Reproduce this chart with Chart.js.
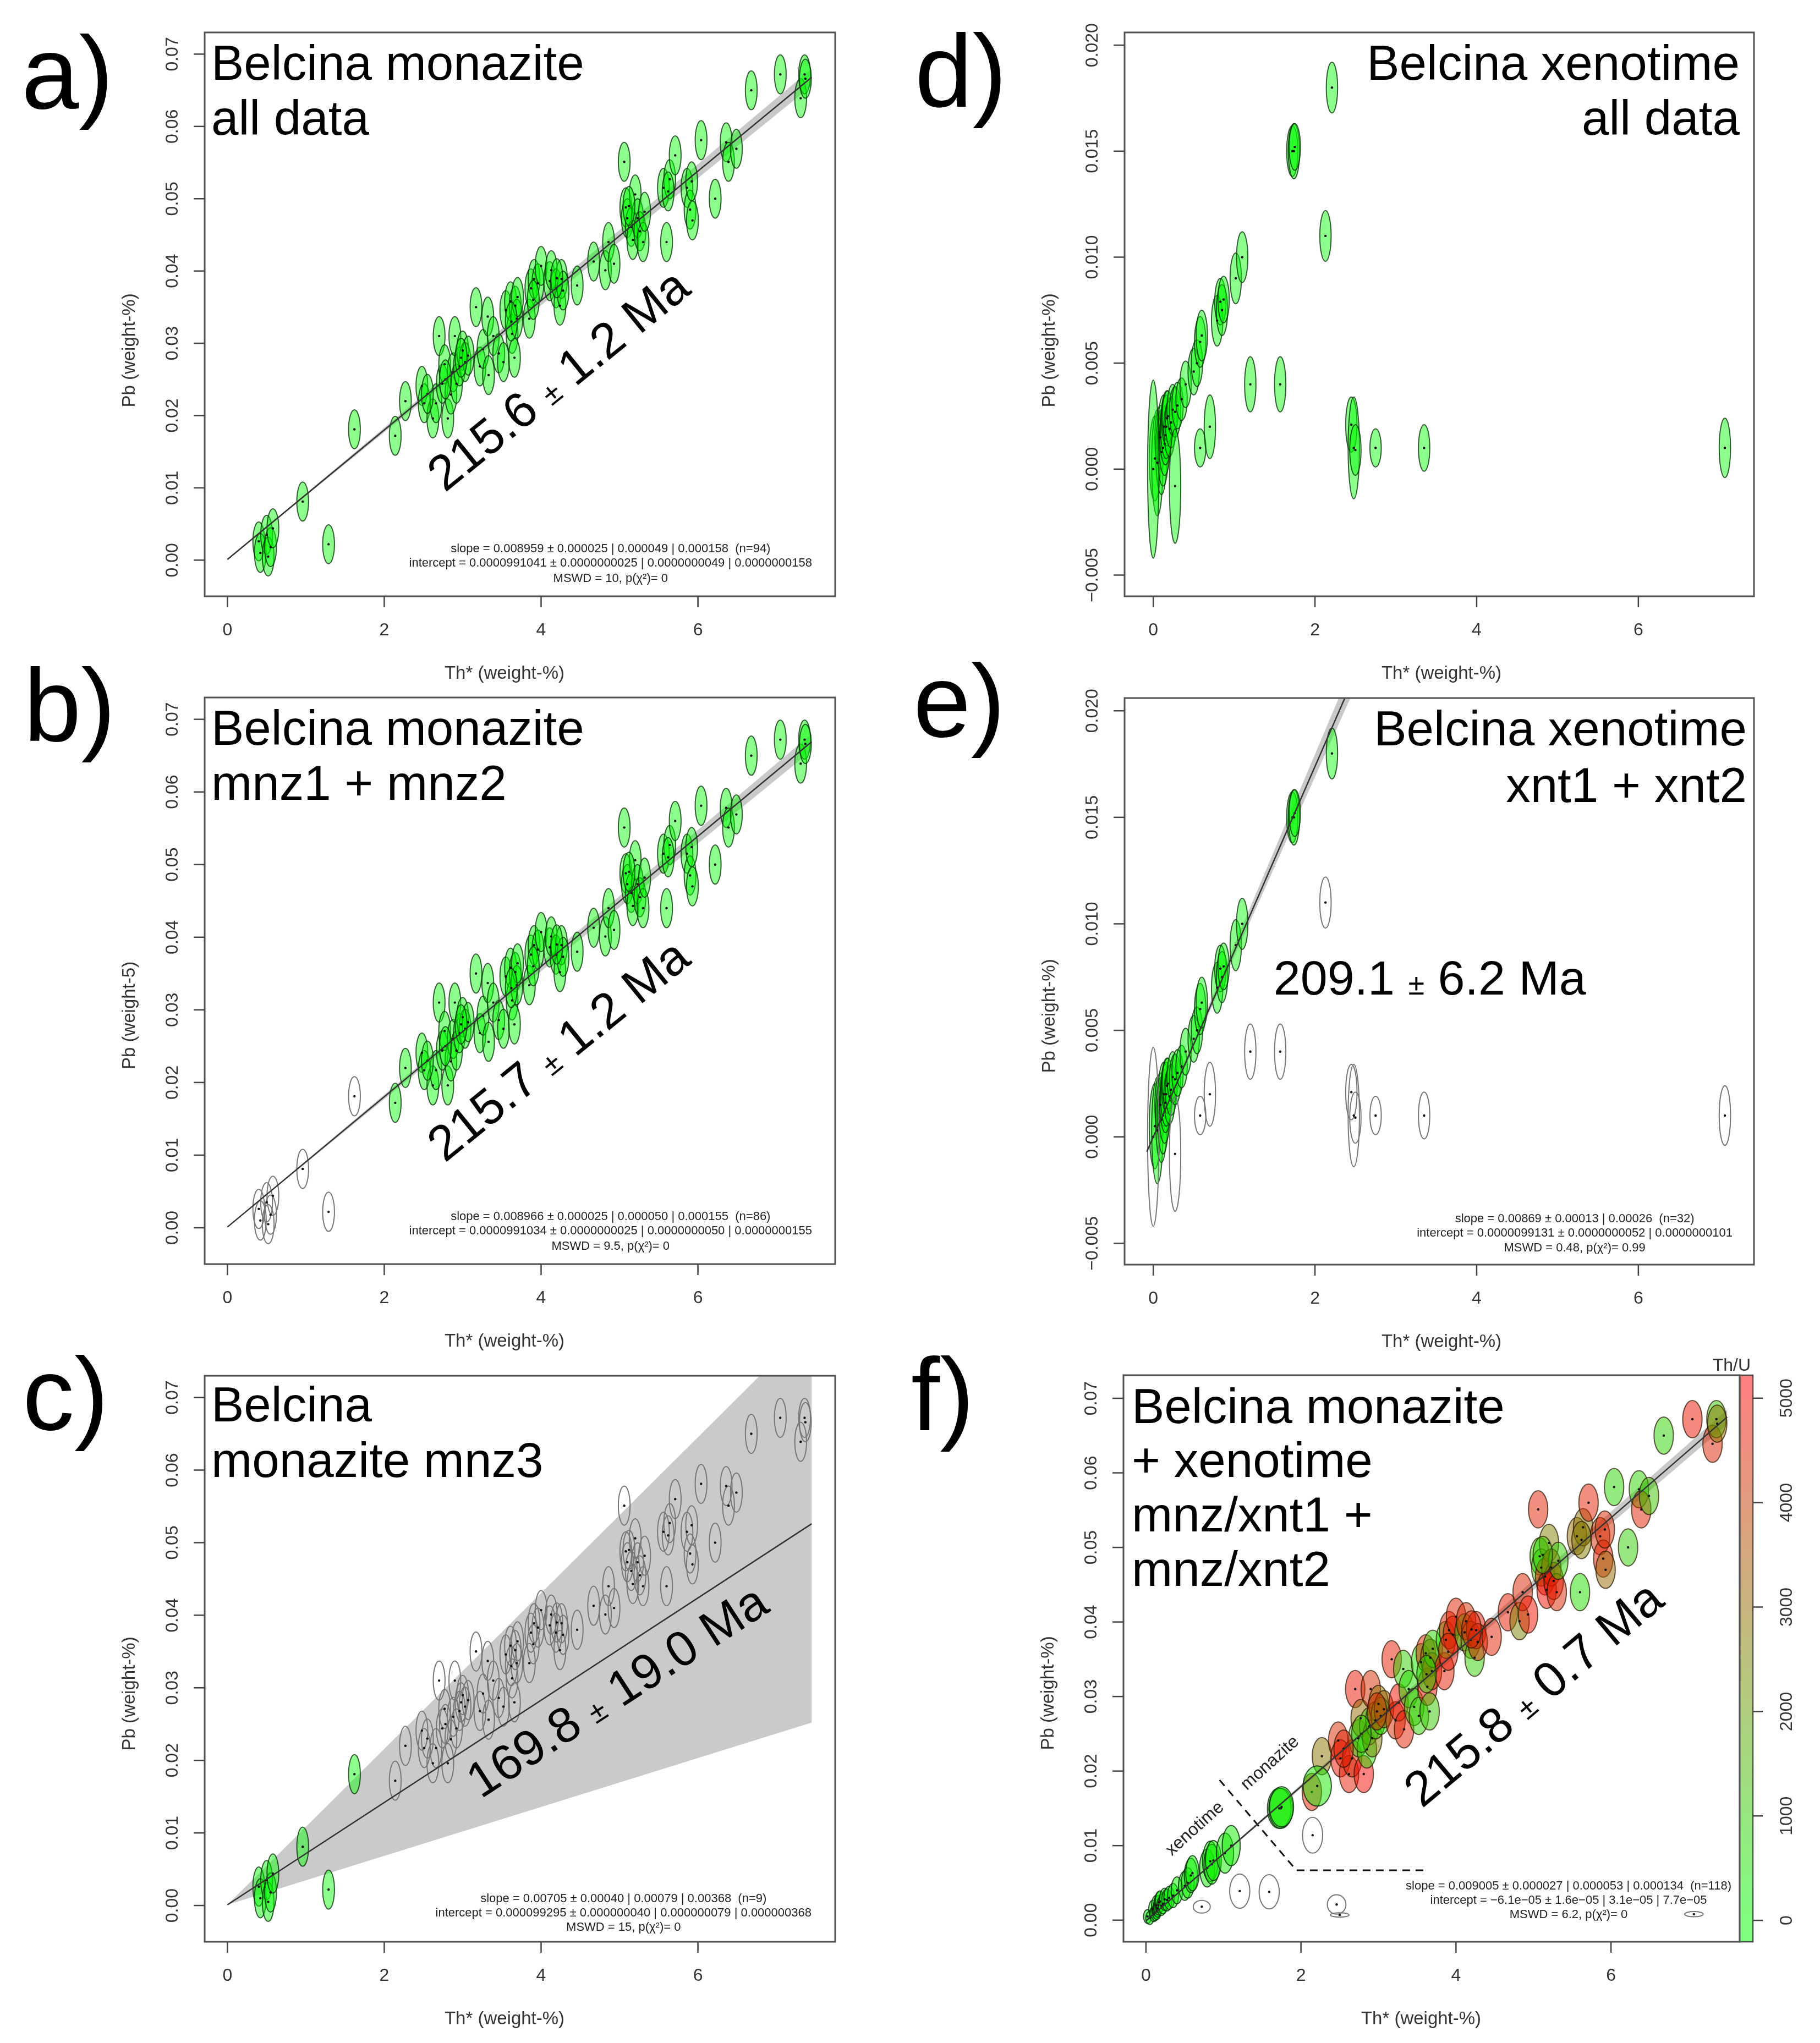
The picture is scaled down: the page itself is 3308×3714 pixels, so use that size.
<!DOCTYPE html>
<html>
<head>
<meta charset="utf-8">
<script src="https://cdn.jsdelivr.net/npm/chart.js@4.4.1/dist/chart.umd.min.js"></script>
<style>
  body { margin: 0; background: #fff; width: 3308px; height: 3714px; position: relative; overflow: hidden; }
  canvas { position: absolute; }
</style>
</head>
<body>
<script>
// ---- axis ticks ----
const thTicks = [0, 2, 4, 6];
const thTickLabels = ['0', '2', '4', '6'];
const pbTicksMnz = [0, 0.01, 0.02, 0.03, 0.04, 0.05, 0.06, 0.07];
const pbTickLabelsMnz = ['0.00', '0.01', '0.02', '0.03', '0.04', '0.05', '0.06', '0.07'];
const pbTicksXnt = [-0.005, 0, 0.005, 0.010, 0.015, 0.020];
const pbTickLabelsXnt = ['\u22120.005', '0.000', '0.005', '0.010', '0.015', '0.020'];
const thuTicks = [0, 1000, 2000, 3000, 4000, 5000];
const thuTickLabels = ['0', '1000', '2000', '3000', '4000', '5000'];

// ---- monazite (mnz1 + mnz2) ----
const mnzTh = [2.14, 2.27, 2.48, 2.51, 2.62, 2.66, 2.70, 2.74, 2.77, 2.81, 2.85, 2.88, 2.90, 2.92, 2.96, 3.00, 3.03, 3.07, 3.17, 3.22,
  3.26, 3.32, 3.33, 3.39, 3.46, 3.52, 3.55, 3.61, 3.63, 3.66, 3.67, 3.69, 3.70, 3.85, 3.87, 3.91, 3.96, 4.00, 4.11, 4.13,
  4.19, 4.24, 4.26, 4.28, 4.46, 4.67, 4.82, 4.86, 4.93, 5.06, 5.08, 5.10, 5.15, 5.17, 5.20, 5.23, 5.26, 5.30, 5.32, 5.56,
  5.60, 5.64, 5.71, 5.86, 5.90, 5.92, 5.93, 6.04, 6.22, 6.36, 6.39, 6.49, 6.68, 7.05, 7.31, 7.36, 7.37, 2.55, 2.78, 2.98,
  3.62, 3.90, 4.20, 5.12, 5.62];
const mnzPb = [0.0172, 0.0220, 0.0241, 0.0217, 0.0196, 0.0217, 0.0310, 0.0244, 0.0271, 0.0196, 0.0229, 0.0260, 0.0310, 0.0244, 0.0268, 0.0290, 0.0274, 0.0283, 0.0350, 0.0268,
  0.0292, 0.0337, 0.0256, 0.0310, 0.0286, 0.0274, 0.0346, 0.0358, 0.0313, 0.0280, 0.0352, 0.0334, 0.0364, 0.0334, 0.0376, 0.0389, 0.0383, 0.0407, 0.0386, 0.0401,
  0.0376, 0.0352, 0.0389, 0.0373, 0.0380, 0.0413, 0.0401, 0.0440, 0.0410, 0.0551, 0.0488, 0.0473, 0.0461, 0.0443, 0.0506, 0.0473, 0.0455, 0.0440, 0.0482, 0.0515,
  0.0440, 0.0527, 0.0560, 0.0515, 0.0485, 0.0524, 0.0470, 0.0581, 0.0500, 0.0578, 0.0551, 0.0569, 0.0650, 0.0672, 0.0639, 0.0672, 0.0666, 0.0230, 0.0250, 0.0280,
  0.0330, 0.0360, 0.0390, 0.0490, 0.0510];
const mnzThU = [4600, 2800, 4400, 4900, 4700, 4500, 4800, 900, 3000, 5000, 700, 1100, 4300, 2600, 800, 2900, 600, 3200, 4700, 4400,
  4900, 1000, 4600, 700, 1200, 900, 500, 4500, 4800, 1100, 3100, 4400, 800, 4700, 600, 4500, 4900, 4600, 900, 4300,
  2700, 1000, 4800, 4400, 4600, 4700, 2500, 4500, 4900, 4600, 800, 1100, 4700, 5000, 2600, 4400, 4800, 4500, 900, 3000,
  700, 2800, 4600, 4300, 4700, 4400, 3100, 800, 1000, 900, 4600, 1200, 900, 4800, 4500, 1000, 2900, 4600, 1100, 4400,
  700, 4700, 4500, 1000, 2700];

// ---- monazite (mnz3, low Th*) ----
const mnzLowTh = [0.40, 0.42, 0.50, 0.52, 0.55, 0.58, 0.96, 1.29, 1.62];
const mnzLowPb = [0.0026, 0.0010, 0.0035, 0.0005, 0.0018, 0.0044, 0.0081, 0.0022, 0.0181];

// ---- xenotime (xnt1 + xnt2) ----
const xntTh = [0.02, 0.05, 0.09, 0.10, 0.12, 0.13, 0.14, 0.15, 0.16, 0.17, 0.18, 0.20, 0.22, 0.24, 0.27, 0.30,
  0.35, 0.40, 0.50, 0.54, 0.58, 0.60, 0.79, 0.83, 0.85, 0.87, 1.02, 1.10, 1.72, 1.74, 1.75, 2.21];
const xntPb = [0.0005, 0.0003, 0.0015, 0.0008, 0.0010, 0.0020, 0.0012, 0.0016, 0.0020, 0.0024, 0.0025, 0.0019, 0.0022, 0.0028, 0.0027, 0.0030,
  0.0033, 0.0040, 0.0046, 0.0050, 0.0060, 0.0063, 0.0070, 0.0079, 0.0075, 0.0080, 0.0090, 0.0100, 0.0150, 0.0150, 0.0152, 0.0180];
const xntErrPb = [0.0020, 0.0025, 0.0015, 0.0020, 0.0018, 0.0015, 0.0015, 0.0014, 0.0015, 0.0013, 0.0012, 0.0013, 0.0012, 0.0012, 0.0012, 0.0011,
  0.0010, 0.0011, 0.0011, 0.0011, 0.0012, 0.0012, 0.0012, 0.0011, 0.0012, 0.0011, 0.0012, 0.0012, 0.0012, 0.0013, 0.0011, 0.0012];
const xntThU = [60, 40, 90, 50, 70, 110, 80, 100, 120, 90, 130, 70, 150, 110, 160, 140,
  180, 200, 230, 190, 260, 240, 280, 300, 250, 320, 340, 310, 380, 420, 360, 450];

// ---- xenotime rejected ----
const xntRejTh = [0.00, 0.27, 0.58, 0.70, 1.20, 1.57, 2.13, 2.45, 2.48, 2.50, 2.75, 3.35, 7.07];
const xntRejPb = [0.0000, -0.0008, 0.0010, 0.0020, 0.0040, 0.0040, 0.0110, 0.0021, 0.0010, 0.0009, 0.0010, 0.0010, 0.0010];
const xntRejErrPb = [0.0042, 0.0027, 0.0009, 0.0015, 0.0013, 0.0013, 0.0012, 0.0013, 0.0024, 0.0012, 0.0009, 0.0011, 0.0014];

// ---- open ellipses in panel f ----
const fRejTh = [0.72, 1.21, 1.59, 2.15, 2.46, 2.50, 7.07];
const fRejPb = [0.0018, 0.0039, 0.0038, 0.0114, 0.0021, 0.0007, 0.0008];
const fRejErrTh = [0.11, 0.13, 0.13, 0.13, 0.12, 0.12, 0.12];
const fRejErrPb = [0.00085, 0.0023, 0.0023, 0.0024, 0.0013, 0.0003, 0.00035];

// ---- isochron lines and bands (Th*, Pb) ----
const fitA = [[0, 0.0001], [7.45, 0.0668]];
const bandAHi = [[0, 0.0001], [7.45, 0.0680]];
const bandALo = [[0, 0.0001], [7.45, 0.0656]];
const fitB = [[0, 0.0001], [7.45, 0.0669]];
const bandBHi = [[0, 0.0001], [7.45, 0.0680]];
const bandBLo = [[0, 0.0001], [7.45, 0.0657]];
const fitC = [[0, 0.0001], [7.45, 0.0526]];
const bandCHi = [[0, 0.0001], [7.45, 0.0801]];
const bandCLo = [[0, 0.0001], [7.45, 0.0252]];
const fitE = [[-0.08, -0.0007], [2.45, 0.0213]];
const bandEHi = [[-0.08, -0.0007], [2.45, 0.0220]];
const bandELo = [[-0.08, -0.0007], [2.45, 0.0207]];
const fitF = [[0, -0.0001], [7.5, 0.0675]];
const bandFHi = [[0, -0.0001], [7.5, 0.0685]];
const bandFLo = [[0, -0.0001], [7.5, 0.0665]];
const divTh = [0.95, 1.94, 3.59];
const divPb = [0.0188, 0.0067, 0.0067];

const statsA = ['slope = 0.008959 \u00b1 0.000025 | 0.000049 | 0.000158  (n=94)',
  'intercept = 0.0000991041 \u00b1 0.0000000025 | 0.0000000049 | 0.0000000158', 'MSWD = 10, p(\u03c7\u00b2)= 0'];
const statsB = ['slope = 0.008966 \u00b1 0.000025 | 0.000050 | 0.000155  (n=86)',
  'intercept = 0.0000991034 \u00b1 0.0000000025 | 0.0000000050 | 0.0000000155', 'MSWD = 9.5, p(\u03c7\u00b2)= 0'];
const statsC = ['slope = 0.00705 \u00b1 0.00040 | 0.00079 | 0.00368  (n=9)',
  'intercept = 0.000099295 \u00b1 0.000000040 | 0.000000079 | 0.000000368', 'MSWD = 15, p(\u03c7\u00b2)= 0'];
const statsE = ['slope = 0.00869 \u00b1 0.00013 | 0.00026  (n=32)',
  'intercept = 0.0000099131 \u00b1 0.0000000052 | 0.0000000101', 'MSWD = 0.48, p(\u03c7\u00b2)= 0.99'];
const statsF = ['slope = 0.009005 \u00b1 0.000027 | 0.000053 | 0.000134  (n=118)',
  'intercept = \u22126.1e\u221205 \u00b1 1.6e\u221205 | 3.1e\u221205 | 7.7e\u221205', 'MSWD = 6.2, p(\u03c7\u00b2)= 0'];

// ---- helpers ----
const FONT = '"Liberation Sans", Arial, Helvetica, sans-serif';
const font = s => s + 'px ' + FONT;
const CW = 1654, CH = 1294;
const GREEN = 'rgba(0,255,0,0.45)';
const GREEN_EDGE = 'rgba(0,40,0,0.75)';
const OPEN_EDGE = '#777';

function thuColor(v) {
  const t = Math.max(0, Math.min(1, v / 5200));
  return 'rgba(' + Math.round(255 * t) + ',' + Math.round(255 * (1 - t)) + ',0,0.5)';
}
const pts = (xs, ys) => xs.map((x, i) => ({ x: x, y: ys[i] }));
const pairs = pp => pp.map(p => ({ x: p[0], y: p[1] }));
function pairsOf(xs, ys) { return xs.map((x, i) => [x, ys[i]]); }

function ellSet(xs, ys, ell) {
  return {
    type: 'scatter', data: pts(xs, ys), order: 2,
    pointRadius: 2.2, pointBackgroundColor: '#111', pointBorderColor: '#111', pointBorderWidth: 0,
    ell: ell
  };
}
function lineSet(pp, opts) {
  opts = opts || {};
  return {
    type: 'line', data: pairs(pp), order: 1, tension: 0, fill: false,
    borderColor: opts.color || '#333', borderWidth: opts.width || 2.5, borderDash: opts.dash || [],
    pointRadius: 0
  };
}
function bandSets(hi, lo, color) {
  return [
    { type: 'line', data: pairs(hi), order: 10, borderWidth: 0, borderColor: 'rgba(0,0,0,0)', pointRadius: 0, fill: false, tension: 0 },
    { type: 'line', data: pairs(lo), order: 9, borderWidth: 0, borderColor: 'rgba(0,0,0,0)', pointRadius: 0, fill: '-1',
      backgroundColor: color || 'rgba(120,120,120,0.4)', tension: 0 }
  ];
}

const greenEll = (rx, ry) => ({ rx: rx, ry: ry, fill: GREEN, stroke: GREEN_EDGE, lw: 2 });
const openEll = (rx, ry) => ({ rx: rx, ry: ry, fill: null, stroke: OPEN_EDGE, lw: 2 });

const ellipsePlugin = {
  id: 'errEllipses',
  beforeDatasetDraw(chart, args) {
    const ds = chart.data.datasets[args.index];
    const e = ds.ell;
    if (!e) return;
    const xs = chart.scales.x, ys = chart.scales.y, a = chart.chartArea, ctx = chart.ctx;
    const pick = (v, i) => typeof v === 'function' ? v(i) : (Array.isArray(v) ? v[i] : v);
    ctx.save();
    ctx.beginPath();
    ctx.rect(a.left, a.top, a.right - a.left, a.bottom - a.top);
    ctx.clip();
    ds.data.forEach((p, i) => {
      const cx = xs.getPixelForValue(p.x), cy = ys.getPixelForValue(p.y);
      const rx = Math.abs(xs.getPixelForValue(p.x + pick(e.rx, i)) - cx);
      const ry = Math.abs(ys.getPixelForValue(p.y + pick(e.ry, i)) - cy);
      ctx.beginPath();
      ctx.ellipse(cx, cy, rx, ry, 0, 0, Math.PI * 2);
      const f = pick(e.fill, i);
      if (f) { ctx.fillStyle = f; ctx.fill(); }
      ctx.lineWidth = e.lw;
      ctx.strokeStyle = pick(e.stroke, i);
      ctx.stroke();
    });
    ctx.restore();
  }
};
Chart.register(ellipsePlugin);

function drawParts(ctx, parts, cx, cy, deg) {
  ctx.save();
  ctx.translate(cx, cy);
  ctx.rotate(-deg * Math.PI / 180);
  let w = 0;
  parts.forEach(p => { ctx.font = font(p[1]); w += ctx.measureText(p[0]).width; });
  let x = -w / 2;
  const base = 0.36 * parts[0][1];
  ctx.textAlign = 'left';
  ctx.textBaseline = 'alphabetic';
  parts.forEach(p => {
    ctx.font = font(p[1]);
    ctx.fillText(p[0], x, base);
    x += ctx.measureText(p[0]).width;
  });
  ctx.restore();
}

function framePlugin(p) {
  return {
    id: 'frame_' + p.id,
    afterDraw(chart) {
      const ctx = chart.ctx, a = chart.chartArea, xs = chart.scales.x, ys = chart.scales.y;
      const seg = (x1, y1, x2, y2) => { ctx.beginPath(); ctx.moveTo(x1, y1); ctx.lineTo(x2, y2); ctx.stroke(); };
      const vtext = (s, x, y) => {
        ctx.save(); ctx.translate(x, y); ctx.rotate(-Math.PI / 2);
        ctx.textAlign = 'center'; ctx.textBaseline = 'alphabetic'; ctx.fillText(s, 0, 0); ctx.restore();
      };
      ctx.save();
      // box
      ctx.strokeStyle = '#505050';
      ctx.lineWidth = 3;
      ctx.strokeRect(a.left, a.top, a.right - a.left, a.bottom - a.top);

      // x axis
      ctx.strokeStyle = '#444';
      ctx.lineWidth = 2.5;
      ctx.fillStyle = '#333';
      ctx.font = font(32);
      ctx.textAlign = 'center';
      ctx.textBaseline = 'alphabetic';
      thTicks.forEach((v, i) => {
        const px = xs.getPixelForValue(v);
        seg(px, a.bottom, px, a.bottom + 20);
        ctx.fillText(thTickLabels[i], px, a.bottom + 71);
      });
      ctx.font = font(33);
      ctx.fillText('Th* (weight-%)', a.left + p.xTitleDx, a.bottom + 150);

      // y axis
      ctx.font = font(32);
      p.yTicks.forEach((v, i) => {
        const py = ys.getPixelForValue(v);
        seg(a.left - 20, py, a.left, py);
        vtext(p.yLabels[i], a.left - 49, py);
      });
      ctx.font = font(33);
      vtext(p.yTitle, a.left - 127, a.top + 578);

      // colour bar
      if (p.colorbar) {
        const yc = chart.scales.yc;
        const x0 = a.right, x1 = a.right + 24;
        const g = ctx.createLinearGradient(0, a.bottom, 0, a.top);
        for (let k = 0; k <= 10; k++) {
          g.addColorStop(k / 10, thuColor(yc.min + (yc.max - yc.min) * k / 10));
        }
        ctx.fillStyle = g;
        ctx.fillRect(x0, a.top, x1 - x0, a.bottom - a.top);
        ctx.strokeStyle = '#505050';
        ctx.lineWidth = 2.5;
        ctx.strokeRect(x0, a.top, x1 - x0, a.bottom - a.top);
        ctx.strokeStyle = '#444';
        ctx.fillStyle = '#333';
        ctx.font = font(32);
        thuTicks.forEach((v, i) => {
          const py = yc.getPixelForValue(v);
          seg(x1, py, x1 + 18, py);
          vtext(thuTickLabels[i], x1 + 71, py);
        });
        ctx.textAlign = 'right';
        ctx.fillText('Th/U', a.right + 20, a.top - 8);
      }

      // panel letter
      ctx.fillStyle = '#000';
      ctx.font = font(188);
      ctx.textAlign = 'left';
      ctx.fillText(p.letter[0], p.letter[1] - p.ox, p.letter[2] - p.oy);

      // title
      ctx.font = font(89);
      ctx.textAlign = p.title.align;
      const tx = p.title.align === 'left' ? a.left + p.title.dx : a.right - p.title.dx;
      p.title.lines.forEach((s, i) => ctx.fillText(s, tx, a.top + p.title.dy[i]));

      // age label
      if (p.age) {
        drawParts(ctx, p.age.parts, xs.getPixelForValue(p.age.x), ys.getPixelForValue(p.age.y), p.age.deg);
      }
      // small notes
      (p.notes || []).forEach(n => {
        ctx.fillStyle = '#222';
        drawParts(ctx, [[n.t, 32]], xs.getPixelForValue(n.x), ys.getPixelForValue(n.y), n.deg);
      });

      // statistics
      if (p.stats) {
        ctx.font = font(22);
        ctx.fillStyle = '#222';
        ctx.textAlign = 'center';
        const maxW = Math.max.apply(null, p.stats.lines.map(s => ctx.measureText(s).width));
        const cx = a.right - p.stats.inset - maxW / 2;
        p.stats.lines.forEach((s, i) => ctx.fillText(s, cx, a.bottom + p.stats.dy[i]));
      }
      ctx.restore();
    }
  };
}

const mnzAllTh = mnzTh.concat(mnzLowTh);
const mnzAllPb = mnzPb.concat(mnzLowPb);
const xntAllTh = xntTh.concat(xntRejTh);
const xntAllPb = xntPb.concat(xntRejPb);
const xntAllErr = xntErrPb.concat(xntRejErrPb);

const panels = [
  {
    id: 'a', ox: 0, oy: 0, box: [372, 59, 1518, 1084], xr: [-0.29, 7.75], yr: [-0.005, 0.073],
    yTicks: pbTicksMnz, yLabels: pbTickLabelsMnz, yTitle: 'Pb (weight-%)', xTitleDx: 545,
    letter: ['a)', 39, 197],
    title: { lines: ['Belcina monazite', 'all data'], align: 'left', dx: 12, dy: [86, 186] },
    age: { parts: [['215.6 ', 90], ['\u00b1', 54], [' 1.2 Ma', 90]], x: 4.21, y: 0.0251, deg: 39 },
    stats: { lines: statsA, inset: 42, dy: [-80, -54, -26] },
    datasets: () => [].concat(bandSets(bandAHi, bandALo),
      [ellSet(mnzAllTh, mnzAllPb, greenEll(0.075, 0.0027)), lineSet(fitA)])
  },
  {
    id: 'b', ox: 0, oy: 1190, box: [372, 1268, 1518, 2298], xr: [-0.29, 7.75], yr: [-0.005, 0.073],
    yTicks: pbTicksMnz, yLabels: pbTickLabelsMnz, yTitle: 'Pb (weight-5)', xTitleDx: 545,
    letter: ['b)', 43, 1347],
    title: { lines: ['Belcina monazite', 'mnz1 + mnz2'], align: 'left', dx: 12, dy: [86, 186] },
    age: { parts: [['215.7 ', 90], ['\u00b1', 54], [' 1.2 Ma', 90]], x: 4.21, y: 0.0246, deg: 39 },
    stats: { lines: statsB, inset: 42, dy: [-80, -54, -26] },
    datasets: () => [].concat(bandSets(bandBHi, bandBLo),
      [ellSet(mnzLowTh, mnzLowPb, openEll(0.075, 0.0027)),
       ellSet(mnzTh, mnzPb, greenEll(0.075, 0.0027)), lineSet(fitB)])
  },
  {
    id: 'c', ox: 0, oy: 2420, box: [372, 2501, 1518, 3530], xr: [-0.29, 7.75], yr: [-0.005, 0.073],
    yTicks: pbTicksMnz, yLabels: pbTickLabelsMnz, yTitle: 'Pb (weight-%)', xTitleDx: 545,
    letter: ['c)', 41, 2599],
    title: { lines: ['Belcina', 'monazite mnz3'], align: 'left', dx: 12, dy: [83, 184] },
    age: { parts: [['169.8 ', 90], ['\u00b1', 54], [' 19.0 Ma', 90]], x: 4.96, y: 0.0297, deg: 33 },
    stats: { lines: statsC, inset: 43, dy: [-72, -46, -20] },
    datasets: () => [].concat(bandSets(bandCHi, bandCLo, 'rgba(150,150,150,0.5)'),
      [ellSet(mnzTh, mnzPb, openEll(0.075, 0.0027)),
       ellSet(mnzLowTh, mnzLowPb, greenEll(0.075, 0.0027)), lineSet(fitC)])
  },
  {
    id: 'd', ox: 1654, oy: 0, box: [2044, 59, 3188, 1084], xr: [-0.355, 7.43], yr: [-0.006, 0.0206],
    yTicks: pbTicksXnt, yLabels: pbTickLabelsXnt, yTitle: 'Pb (weight-%)', xTitleDx: 576,
    letter: ['d)', 1663, 194],
    title: { lines: ['Belcina xenotime', 'all data'], align: 'right', dx: 26, dy: [86, 186] },
    datasets: () => [ellSet(xntAllTh, xntAllPb, greenEll(0.07, xntAllErr))]
  },
  {
    id: 'e', ox: 1654, oy: 1190, box: [2044, 1269, 3188, 2299], xr: [-0.355, 7.43], yr: [-0.006, 0.0206],
    yTicks: pbTicksXnt, yLabels: pbTickLabelsXnt, yTitle: 'Pb (weight-%)', xTitleDx: 576,
    letter: ['e)', 1660, 1339],
    title: { lines: ['Belcina xenotime', 'xnt1 + xnt2'], align: 'right', dx: 13, dy: [86, 189] },
    age: { parts: [['209.1 ', 88], ['\u00b1', 54], [' 6.2 Ma', 88]], x: 3.42, y: 0.0075, deg: 0 },
    stats: { lines: statsE, inset: 39, dy: [-77, -51, -24] },
    datasets: () => [].concat(bandSets(bandEHi, bandELo),
      [ellSet(xntRejTh, xntRejPb, openEll(0.07, xntRejErrPb)),
       ellSet(xntTh, xntPb, greenEll(0.07, xntErrPb)), lineSet(fitE)])
  },
  {
    id: 'f', ox: 1654, oy: 2420, box: [2042, 2500, 3162, 3530], xr: [-0.29, 7.66], yr: [-0.0029, 0.0731],
    yTicks: pbTicksMnz, yLabels: pbTickLabelsMnz, yTitle: 'Pb (weight-%)', xTitleDx: 541,
    letter: ['f)', 1656, 2600],
    title: { lines: ['Belcina monazite', '+ xenotime', 'mnz/xnt1 +', 'mnz/xnt2'], align: 'left', dx: 15, dy: [87, 185, 284, 383] },
    age: { parts: [['215.8 ', 90], ['\u00b1', 54], [' 0.7 Ma', 90]], x: 4.99, y: 0.0305, deg: 40 },
    notes: [{ t: 'xenotime', x: 0.62, y: 0.0124, deg: 42 }, { t: 'monazite', x: 1.59, y: 0.0212, deg: 42 }],
    stats: { lines: statsF, inset: 15, dy: [-95, -69, -43] },
    colorbar: true,
    datasets: () => [].concat(bandSets(bandFHi, bandFLo),
      [ellSet(xntTh, xntPb, { rx: i => 0.05 + 0.06 * xntTh[i], ry: i => Math.min(0.0027, 0.0008 + 0.25 * xntPb[i]),
         fill: xntThU.map(thuColor), stroke: 'rgba(0,30,0,0.75)', lw: 2 }),
       ellSet(mnzTh, mnzPb, { rx: 0.125, ry: 0.0025, fill: mnzThU.map(thuColor), stroke: 'rgba(40,20,0,0.7)', lw: 2 }),
       ellSet(fRejTh, fRejPb, openEll(fRejErrTh, fRejErrPb)),
       lineSet(fitF),
       lineSet(pairsOf(divTh, divPb), { color: '#111', width: 3, dash: [14, 10] })])
  }
];

panels.forEach(p => {
  const cv = document.createElement('canvas');
  cv.width = CW; cv.height = CH;
  cv.style.left = p.ox + 'px';
  cv.style.top = p.oy + 'px';
  cv.style.width = CW + 'px';
  cv.style.height = CH + 'px';
  document.body.appendChild(cv);
  const [L, T, R, B] = p.box;
  const scales = {
    x: { type: 'linear', min: p.xr[0], max: p.xr[1], display: false },
    y: { type: 'linear', min: p.yr[0], max: p.yr[1], display: false }
  };
  if (p.colorbar) scales.yc = { type: 'linear', position: 'right', min: -205, max: 5220, display: false };
  new Chart(cv.getContext('2d'), {
    type: 'scatter',
    data: { datasets: p.datasets() },
    options: {
      responsive: false,
      animation: false,
      devicePixelRatio: 1,
      layout: { autoPadding: false, padding: { left: L - p.ox, top: T - p.oy, right: p.ox + CW - R, bottom: p.oy + CH - B } },
      scales: scales,
      plugins: { legend: { display: false }, tooltip: { enabled: false } },
      events: []
    },
    plugins: [framePlugin(p)]
  });
});
</script>
</body>
</html>
